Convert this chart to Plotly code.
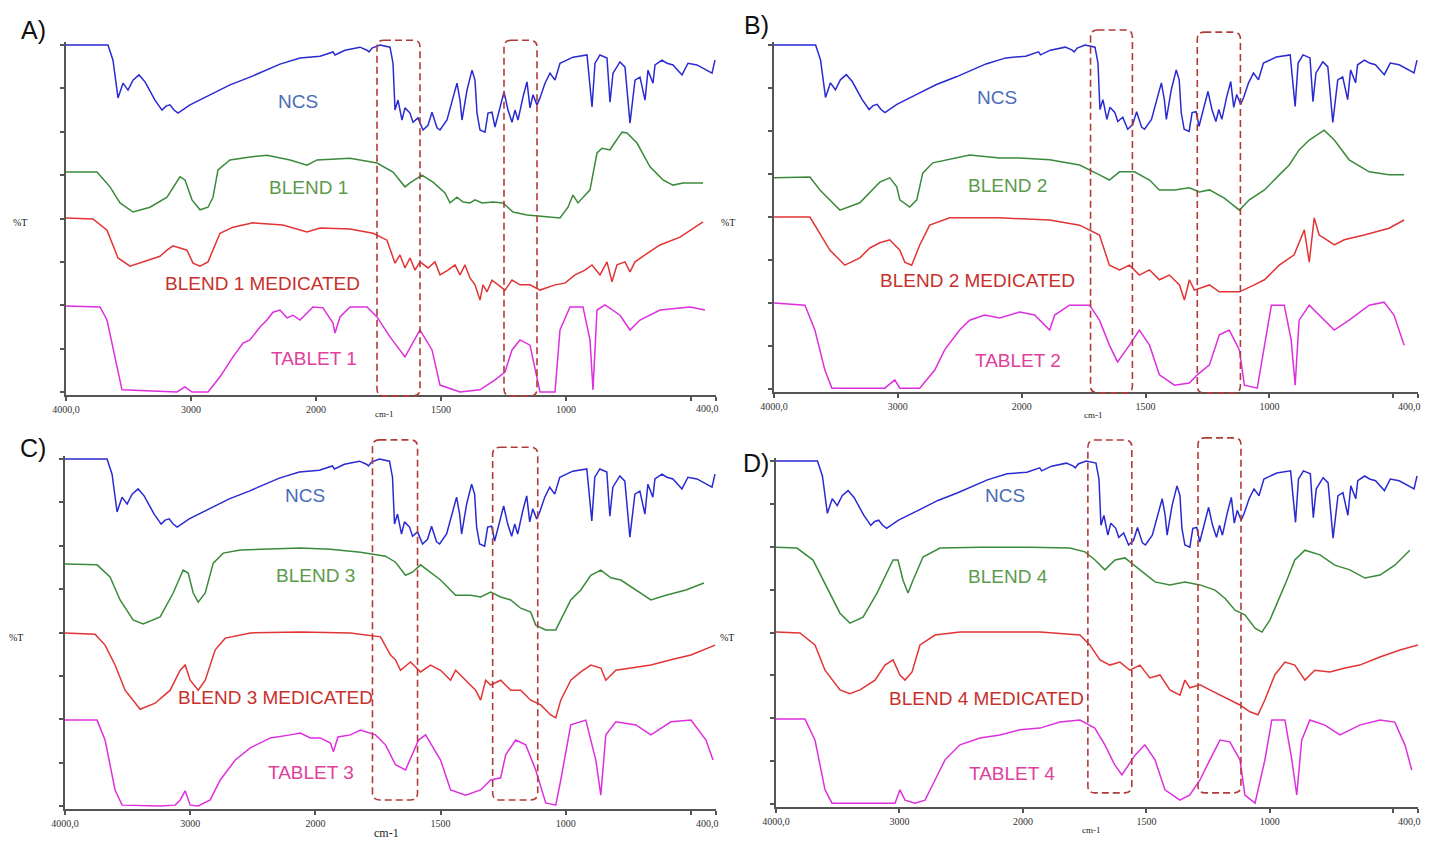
import plotly.graph_objects as go

W, H = 1429, 842

# ---- spectra: (wavenumber cm-1, transmittance-like value) ----
NCS = [(4000,80.0),(3664,80.0),(3624,76.5),(3584,67.8),(3544,71.2),(3504,69.6),(3464,71.9),(3416,73.1),(3368,71.5),(3288,67.3),
       (3232,65.0),(3200,65.9),(3168,66.2),(3136,65.0),(3104,64.3),(3008,66.2),(2848,68.5),(2688,70.8),(2528,72.6),(2400,74.2),
       (2288,75.6),(2128,77.0),(1984,77.4),(1932,78.4),(1924,77.7),(1884,78.8),(1824,79.5),(1796,78.8),(1788,78.4),(1776,79.3),
       (1744,80.0),(1704,79.5),(1692,75.8),(1684,65.0),(1672,67.3),(1656,62.7),(1644,65.5),(1624,64.3),(1612,62.2),(1592,63.2),
       (1572,60.4),(1552,61.5),(1536,64.5),(1516,60.9),(1504,60.4),(1476,62.7),(1456,66.8),(1436,71.2),(1424,67.3),(1416,62.7),
       (1396,69.6),(1376,74.2),(1364,71.9),(1356,64.3),(1344,60.4),(1324,59.9),(1312,64.3),(1296,64.5),(1284,61.1),(1264,65.7),
       (1248,69.2),(1232,65.0),(1216,62.2),(1204,65.0),(1192,62.7),(1172,68.0),(1156,71.5),(1144,65.5),(1132,68.5),(1116,66.2),
       (1104,67.8),(1084,71.2),(1064,73.5),(1044,71.9),(1024,75.8),(972,77.2),(916,77.7),(896,65.7),(884,75.8),(864,77.7),
       (836,77.0),(824,66.8),(812,73.5),(784,76.1),(764,74.9),(744,62.0),(724,71.9),(704,72.6),(684,67.3),(672,74.2),
       (652,71.2),(644,75.4),(616,76.5),(596,75.8),(572,75.4),(536,73.1),(512,75.8),(476,75.4),(436,74.2),(416,73.5),(404,76.5)]

BLEND1 = [(4000,50.7),(3752,50.7),(3648,47.3),(3568,43.6),(3464,41.5),(3328,42.6),(3192,44.9),(3088,49.6),(3048,48.9),(2992,44.3),
          (2928,42.0),(2864,42.6),(2824,44.9),(2784,51.2),(2688,53.5),(2528,54.2),(2392,54.6),(2208,53.5),(2072,52.3),(1996,53.5),
          (1864,53.9),(1756,52.8),(1692,50.7),(1644,47.3),(1624,48.2),(1576,50.0),(1532,48.4),(1484,45.9),(1464,43.6),(1436,44.9),
          (1412,43.8),(1384,43.6),(1364,44.3),(1336,43.6),(1292,43.8),(1252,43.6),(1212,41.5),(1156,40.8),(1024,40.1),(992,42.6),
          (972,45.4),(952,43.6),(904,46.6),(876,55.1),(856,56.2),(824,55.8),(812,56.9),(776,59.9),(756,59.7),(716,57.4),
          (664,51.9),(612,48.9),(572,47.7),(532,48.2),(452,48.2)]

BLEND1_MED = [(4000,40.1),(3784,39.9),(3672,37.3),(3584,30.9),(3488,29.0),(3384,30.0),(3248,31.3),(3192,32.7),(3144,33.7),(3088,33.2),
              (3032,32.7),(2984,29.7),(2928,29.0),(2864,30.0),(2808,33.9),(2768,36.6),(2664,38.0),(2504,39.0),(2264,38.5),(2072,36.9),
              (1984,37.8),(1864,37.6),(1772,36.6),(1716,35.0),(1684,29.7),(1664,31.6),(1644,28.6),(1624,30.9),(1604,28.1),(1584,30.0),
              (1552,28.6),(1524,30.0),(1504,27.0),(1472,28.1),(1444,29.3),(1424,27.0),(1404,29.3),(1384,26.3),(1364,24.7),(1344,21.2),
              (1332,24.7),(1316,23.1),(1296,25.8),(1272,24.7),(1244,23.5),(1216,25.8),(1184,24.7),(1144,24.7),(1104,23.5),(1044,24.7),
              (1004,25.1),(964,27.0),(924,28.1),(896,29.3),(864,27.0),(836,30.0),(816,25.4),(796,29.3),(764,30.0),(744,27.7),
              (724,30.0),(684,31.6),(624,33.9),(544,35.7),(452,39.2)]

TABLET1 = [(4000,19.8),(3728,19.6),(3672,16.6),(3608,8.1),(3552,0.5),(3112,0.0),(3048,1.2),(2992,0.0),(2864,0.0),(2768,3.5),
           (2664,8.1),(2584,11.3),(2528,12.0),(2448,15.0),(2392,16.6),(2344,18.4),(2288,18.9),(2232,17.1),(2184,17.7),(2128,16.6),
           (2072,18.2),(2024,19.6),(1972,19.4),(1932,15.9),(1924,13.6),(1904,17.3),(1864,19.6),(1796,19.6),(1756,17.3),(1704,12.7),
           (1644,8.1),(1584,14.3),(1536,9.7),(1504,1.6),(1424,0.0),(1344,0.5),(1284,2.8),(1244,4.6),(1216,9.7),(1184,12.0),
           (1144,10.8),(1104,0.0),(1044,0.0),(1024,14.3),(984,19.6),(932,19.6),(904,12.0),(892,0.5),(876,18.9),(844,20.1),
           (784,17.7),(744,14.3),(704,16.6),(624,18.9),(504,19.6),(444,18.9)]

BLEND2 = [(4000,49.1),(3710,49.3),(3629,46.3),(3468,41.6),(3307,43.3),(3146,48.1),(3065,49.1),(3009,47.0),(2984,44.0),(2904,42.3),
          (2847,44.0),(2799,50.2),(2718,52.6),(2420,54.4),(2178,53.7),(2016,53.7),(1887,53.3),(1766,52.1),(1686,49.8),(1646,48.6),
          (1605,50.5),(1545,50.5),(1484,48.6),(1444,46.3),(1383,46.3),(1323,46.8),(1283,45.8),(1242,46.3),(1182,44.4),(1121,41.6),
          (1081,44.0),(1020,46.3),(960,49.8),(920,52.1),(880,55.6),(839,57.9),(779,60.2),(738,57.9),(678,53.3),(597,50.5),
          (517,49.8),(456,49.8)]

BLEND2_MED = [(4000,40.0),(3710,40.0),(3549,32.3),(3428,28.8),(3307,30.5),(3226,32.8),(3146,34.0),(3065,34.7),(2984,32.3),(2944,29.5),
              (2888,28.8),(2823,33.5),(2743,38.1),(2581,39.8),(2178,39.8),(1887,39.3),(1766,38.1),(1686,35.8),(1646,28.8),(1605,27.7),
              (1565,28.8),(1525,26.5),(1484,27.7),(1444,25.4),(1404,26.5),(1363,24.2),(1343,20.7),(1323,25.4),(1303,23.0),(1242,24.2),
              (1202,22.6),(1121,22.6),(1061,24.2),(1020,25.4),(960,28.8),(900,31.2),(859,37.0),(839,29.5),(819,39.8),(799,35.8),
              (779,35.1),(738,33.5),(698,34.7),(617,35.8),(517,37.4),(456,39.3)]

TABLET2 = [(4000,20.0),(3750,19.5),(3670,13.7),(3589,4.4),(3533,0.2),(3105,0.2),(3025,2.1),(2984,0.2),(2823,0.2),(2702,4.4),
           (2622,9.1),(2501,13.7),(2420,16.0),(2299,17.2),(2178,16.5),(2016,17.9),(1948,17.2),(1907,14.9),(1887,13.7),(1867,17.2),
           (1807,19.5),(1726,19.5),(1686,16.0),(1646,10.2),(1613,6.3),(1565,10.2),(1525,13.7),(1484,10.2),(1444,3.3),(1383,0.9),
           (1323,1.4),(1291,3.3),(1242,5.6),(1202,12.6),(1162,13.7),(1121,9.1),(1101,0.9),(1049,0.2),(1020,10.2),(992,19.5),
           (940,19.5),(912,11.4),(896,0.9),(880,16.0),(839,19.5),(779,16.0),(738,13.7),(678,16.0),(597,19.5),(537,20.2),
           (497,17.2),(456,10.2)]

BLEND3 = [(4000,55.8),(3744,55.6),(3640,52.8),(3560,47.5),(3456,42.9),(3376,42.0),(3240,43.6),(3136,49.1),(3056,54.4),(3016,53.7),
          (2976,49.1),(2936,47.0),(2880,49.1),(2816,56.0),(2736,58.3),(2600,59.0),(2120,59.5),(1940,59.2),(1820,58.5),(1720,57.6),
          (1680,56.2),(1640,53.2),(1612,53.9),(1580,55.6),(1500,52.1),(1440,48.6),(1380,48.6),(1340,48.2),(1300,49.3),(1260,48.2),
          (1220,47.5),(1180,45.6),(1140,44.7),(1120,41.7),(1080,40.6),(1040,40.6),(1020,42.9),(980,47.5),(940,49.8),(900,53.2),
          (860,54.4),(820,52.6),(780,52.1),(720,49.8),(660,47.5),(600,48.6),(520,49.8),(448,51.4)]

BLEND3_MED = [(4000,39.9),(3760,39.6),(3680,37.1),(3600,32.5),(3520,26.7),(3400,22.3),(3280,23.7),(3160,26.7),(3080,31.3),(3040,32.5),
              (3000,29.0),(2936,26.7),(2880,29.0),(2800,36.0),(2720,38.7),(2520,39.9),(2120,40.1),(1860,39.9),(1740,39.0),(1700,34.8),
              (1680,33.7),(1660,31.3),(1620,33.2),(1580,30.9),(1540,32.5),(1500,31.3),(1460,29.0),(1440,31.3),(1400,29.0),(1360,26.7),
              (1340,24.4),(1320,29.0),(1300,27.9),(1260,29.0),(1220,26.7),(1180,26.7),(1140,24.4),(1100,23.3),(1060,21.0),(1040,20.3),
              (1020,24.4),(980,29.0),(940,30.9),(900,32.5),(860,31.8),(840,29.0),(800,31.3),(740,31.8),(660,32.5),(580,33.7),
              (500,34.8),(404,37.1)]

TABLET3 = [(4000,19.8),(3744,19.8),(3680,15.2),(3600,3.7),(3544,0.2),(3240,0.0),(3120,0.2),(3080,1.4),(3040,3.5),(3000,0.2),
           (2936,0.0),(2840,1.4),(2760,6.0),(2640,10.6),(2520,13.4),(2360,15.7),(2200,16.4),(2120,16.8),(2040,15.7),(1980,15.7),
           (1940,14.5),(1928,12.5),(1910,15.9),(1860,16.4),(1820,17.5),(1760,16.4),(1720,14.1),(1680,9.5),(1640,8.3),(1588,15.2),
           (1560,16.4),(1500,10.6),(1460,3.7),(1400,2.5),(1340,3.7),(1300,6.0),(1260,6.5),(1240,11.8),(1200,15.2),(1160,14.1),
           (1120,8.3),(1080,0.7),(1040,0.2),(1020,6.0),(980,18.7),(920,19.8),(880,10.6),(860,2.5),(840,16.4),(800,19.4),
           (720,18.7),(660,16.4),(580,19.4),(500,19.8),(440,15.2),(412,10.6)]

BLEND4 = [(4000,59.9),(3830,59.7),(3700,56.9),(3587,50.6),(3482,44.5),(3401,42.2),(3295,43.6),(3182,49.2),(3052,56.9),(3012,56.9),
          (2971,52.2),(2931,49.2),(2890,52.2),(2809,57.6),(2672,59.7),(2348,59.9),(1972,59.9),(1810,59.7),(1749,58.8),(1708,56.9),
          (1668,54.6),(1627,56.9),(1587,57.4),(1526,54.6),(1465,51.8),(1405,51.1),(1344,51.8),(1283,51.1),(1222,49.9),(1182,48.0),
          (1141,45.2),(1101,44.1),(1060,41.0),(1032,40.1),(1000,42.9),(939,51.1),(899,56.9),(858,59.2),(797,58.1),(737,55.7),
          (676,54.6),(615,52.7),(554,53.4),(494,55.7),(433,59.2)]

BLEND4_MED = [(4000,40.1),(3806,39.9),(3684,37.1),(3603,31.2),(3482,26.6),(3401,25.7),(3320,26.6),(3198,28.9),(3117,32.4),(3052,33.6),
              (2996,30.1),(2955,28.9),(2898,30.8),(2834,37.1),(2712,39.4),(2510,40.1),(2186,40.1),(1931,40.1),(1769,39.4),(1729,37.1),
              (1688,33.6),(1648,32.4),(1607,33.1),(1567,31.2),(1526,32.4),(1486,29.4),(1445,30.1),(1405,26.6),(1364,25.4),(1344,28.9),
              (1324,27.1),(1283,27.8),(1243,26.6),(1162,24.3),(1121,23.1),(1081,21.5),(1048,20.8),(1020,24.3),(980,30.1),(939,33.1),
              (899,32.4),(858,28.9),(818,31.2),(757,30.8),(696,31.7),(636,32.4),(554,34.3),(473,35.9),(400,37.1)]

TABLET4 = [(4000,19.8),(3765,19.8),(3684,14.9),(3603,3.3),(3546,0.2),(3036,0.2),(2996,3.3),(2955,0.9),(2874,0.2),(2793,0.9),
           (2712,5.6),(2631,10.3),(2510,13.8),(2348,15.4),(2186,16.1),(2024,17.3),(1931,17.7),(1850,19.1),(1769,19.6),(1709,17.7),
           (1668,13.8),(1628,9.1),(1599,6.8),(1546,11.4),(1506,13.8),(1465,10.3),(1425,3.3),(1364,0.9),(1324,2.1),(1283,5.6),
           (1243,10.3),(1202,14.9),(1162,14.5),(1121,10.3),(1101,2.1),(1060,0.2),(1020,10.3),(992,19.6),(939,19.6),(911,10.3),
           (891,2.1),(871,14.9),(838,19.6),(777,18.4),(716,16.1),(636,18.4),(554,19.6),(494,19.1),(453,13.8),(425,7.9)]

TICK_WN = [4000, 3000, 2000, 1500, 1000, 500, 400]
TICK_TEXT = ["4000,0", "3000", "2000", "1500", "1000", "", ""]
END_LABEL = "400,0"
Y_TICKS = [0, 10, 20, 30, 40, 50, 60, 70, 80]

LINE_COLORS = ["#2a2ad2", "#3b8a3b", "#e23434", "#de2fde"]
LABEL_COLORS = ["#4a6cb8", "#5c9a4c", "#c8302c", "#e0409c"]
BOX_COLOR = "#b03c3a"

# instrument-style split scale: 4000-2000 compressed, 2000-400 expanded x2
def u(wn):
    return (4000 - wn) / 1000 if wn >= 2000 else 2 + (2000 - wn) / 500

U_MAX = u(400)
YLO, YHI = -0.8, 80.8

PANELS = [
    dict(letter="A)", letter_px=(33, 30), xpx=(66, 716), ypx=(45, 392),
         series=[NCS, BLEND1, BLEND1_MED, TABLET1],
         names=["NCS", "BLEND 1", "BLEND 1 MEDICATED", "TABLET 1"],
         label_px=[(298, 102), (308, 188), (262, 283), (314, 358)],
         pct_px=(20, 222), cm_px=(385, 414), cm_size=9,
         boxes=[(1756, 1584, -0.9, 81.1), (1248, 1116, -0.9, 81.1)]),
    dict(letter="B)", letter_px=(756, 25), xpx=(774, 1418), ypx=(45, 389),
         series=[NCS, BLEND2, BLEND2_MED, TABLET2],
         names=["NCS", "BLEND 2", "BLEND 2 MEDICATED", "TABLET 2"],
         label_px=[(997, 98), (1008, 186), (977, 280), (1018, 360)],
         pct_px=(728, 222), cm_px=(1093, 415), cm_size=9,
         boxes=[(1722, 1553, -0.9, 83.5), (1291, 1117, -0.9, 83.0)]),
    dict(letter="C)", letter_px=(33, 448), xpx=(65, 716), ypx=(459, 806),
         series=[NCS, BLEND3, BLEND3_MED, TABLET3],
         names=["NCS", "BLEND 3", "BLEND 3 MEDICATED", "TABLET 3"],
         label_px=[(305, 496), (315, 575), (275, 697), (311, 772)],
         pct_px=(16, 637), cm_px=(386, 833), cm_size=12,
         boxes=[(1772, 1592, 1.4, 84.4), (1292, 1112, 1.4, 82.7)]),
    dict(letter="D)", letter_px=(756, 463), xpx=(776, 1418), ypx=(461, 804),
         series=[NCS, BLEND4, BLEND4_MED, TABLET4],
         names=["NCS", "BLEND 4", "BLEND 4 MEDICATED", "TABLET 4"],
         label_px=[(1005, 496), (1008, 576), (987, 698), (1012, 773)],
         pct_px=(727, 637), cm_px=(1091, 830), cm_size=9,
         boxes=[(1737, 1559, 2.6, 84.9), (1291, 1117, 2.6, 85.4)]),
]

fig = go.Figure()
annotations = []
shapes = []


def paper(x, y):
    return x / W, 1 - y / H


for i, p in enumerate(PANELS, start=1):
    xs = "" if i == 1 else str(i)
    x0, x1 = p["xpx"]
    top, bot = p["ypx"]
    scale = (bot - top) / 80.0
    dom_top = top - (YHI - 80) * scale
    dom_bot = bot - YLO * scale
    fig.layout["xaxis" + xs] = dict(
        domain=[x0 / W, x1 / W], range=[0, U_MAX], anchor="y" + xs, automargin=False,
        showline=True, linecolor="#555", linewidth=2, mirror=False,
        ticks="outside", ticklen=4, tickwidth=1.5, tickcolor="#555",
        tickvals=[u(w) for w in TICK_WN], ticktext=TICK_TEXT,
        tickfont=dict(family="Liberation Serif", size=10, color="#333"),
        showgrid=False, zeroline=False, fixedrange=True)
    fig.layout["yaxis" + xs] = dict(
        domain=[1 - dom_bot / H, 1 - dom_top / H], range=[YLO, YHI], anchor="x" + xs,
        automargin=False,
        showline=True, linecolor="#555", linewidth=2,
        ticks="outside", ticklen=4, tickwidth=1.5, tickcolor="#555",
        tickvals=Y_TICKS, showticklabels=False,
        showgrid=False, zeroline=False, fixedrange=True)

    for s, name, col in zip(p["series"], p["names"], LINE_COLORS):
        fig.add_trace(go.Scatter(
            x=[u(w) for w, _ in s], y=[t for _, t in s], mode="lines",
            line=dict(color=col, width=1.5), name=name, showlegend=False,
            xaxis="x" + xs, yaxis="y" + xs, hoverinfo="skip"))

    for (lx, ly), name, col in zip(p["label_px"], p["names"], LABEL_COLORS):
        px_, py_ = paper(lx, ly)
        annotations.append(dict(x=px_, y=py_, xref="paper", yref="paper", text=name,
                                showarrow=False, xanchor="center", yanchor="middle",
                                font=dict(family="Liberation Sans", size=19, color=col)))
    lx, ly = paper(*p["letter_px"])
    annotations.append(dict(x=lx, y=ly, xref="paper", yref="paper", text=p["letter"],
                            showarrow=False, xanchor="center", yanchor="middle",
                            font=dict(family="Liberation Sans", size=25, color="#111")))
    lx, ly = paper(*p["pct_px"])
    annotations.append(dict(x=lx, y=ly, xref="paper", yref="paper", text="%T",
                            showarrow=False, xanchor="center", yanchor="middle",
                            font=dict(family="Liberation Serif", size=10, color="#222")))
    lx, ly = paper(*p["cm_px"])
    annotations.append(dict(x=lx, y=ly, xref="paper", yref="paper", text="cm-1",
                            showarrow=False, xanchor="center", yanchor="middle",
                            font=dict(family="Liberation Serif", size=p["cm_size"], color="#222")))
    # end-of-axis label (kept inside the canvas)
    lx, ly = paper(x1 - 9, bot + 17)
    annotations.append(dict(x=lx, y=ly, xref="paper", yref="paper", text=END_LABEL,
                            showarrow=False, xanchor="center", yanchor="middle",
                            font=dict(family="Liberation Serif", size=10, color="#333")))

    for wl, wr, tb, tt in p["boxes"]:
        bx0 = x0 + u(wl) / U_MAX * (x1 - x0)
        bx1 = x0 + u(wr) / U_MAX * (x1 - x0)
        by0 = bot - tt * scale
        by1 = bot - tb * scale
        r = 7
        pts = [("M", bx0 + r, by0), ("L", bx1 - r, by0), ("Q", bx1, by0, bx1, by0 + r),
               ("L", bx1, by1 - r), ("Q", bx1, by1, bx1 - r, by1), ("L", bx0 + r, by1),
               ("Q", bx0, by1, bx0, by1 - r), ("L", bx0, by0 + r), ("Q", bx0, by0, bx0 + r, by0)]
        path = ""
        for seg in pts:
            coords = seg[1:]
            parts = []
            for k in range(0, len(coords), 2):
                X, Y = paper(coords[k], coords[k + 1])
                parts.append(f"{X:.5f},{Y:.5f}")
            path += seg[0] + " " + " ".join(parts) + " "
        shapes.append(dict(type="path", path=path + "Z", xref="paper", yref="paper",
                           line=dict(color=BOX_COLOR, width=1.6, dash="7px,4px"),
                           fillcolor="rgba(0,0,0,0)", layer="above"))

fig.update_layout(width=W, height=H, autosize=False,
                  margin=dict(l=0, r=0, t=0, b=0, autoexpand=False),
                  paper_bgcolor="white", plot_bgcolor="white",
                  annotations=annotations, shapes=shapes, showlegend=False)

fig.write_html("out.html", config=dict(displayModeBar=False))
